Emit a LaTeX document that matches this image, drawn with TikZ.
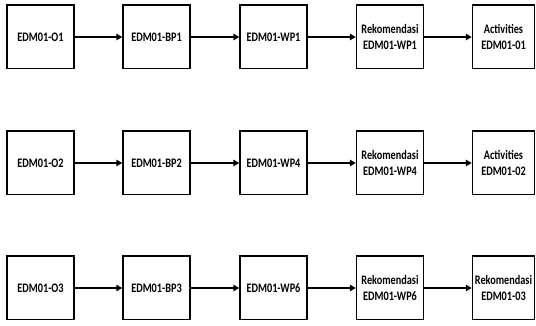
\documentclass[tikz,border=0pt]{standalone}
\usepackage{fontspec}
\newfontfamily\boxfont{Carlito Bold}[FakeStretch=0.79]
\usetikzlibrary{arrows.meta}
\tikzset{
  box/.style={draw=black, line width=1.5pt, fill=white, minimum width=67pt, minimum height=63.5pt,
    inner sep=0pt, align=center, font=\boxfont\fontsize{13}{16.5}\selectfont},
  lastbox/.style={box, minimum width=62pt},
  flow/.style={line width=1.6pt, -{Triangle[length=6pt,width=6.5pt]}}
}
\begin{document}
\begin{tikzpicture}[x=1pt,y=1pt]
\useasboundingbox (0,0) rectangle (536,326);
% row 1
\node[box] (a1) at (40.5,289) {EDM01-O1};
\node[box] (b1) at (156.5,289) {EDM01-BP1};
\node[box] (c1) at (273.5,289) {EDM01-WP1};
\node[box] (d1) at (390,289) {Rekomendasi\\EDM01-WP1};
\node[lastbox] (e1) at (503.5,289) {Activities\\EDM01-01};
% row 2
\node[box] (a2) at (40.5,163) {EDM01-O2};
\node[box] (b2) at (156.5,163) {EDM01-BP2};
\node[box] (c2) at (273.5,163) {EDM01-WP4};
\node[box] (d2) at (390,163) {Rekomendasi\\EDM01-WP4};
\node[lastbox] (e2) at (503.5,163) {Activities\\EDM01-02};
% row 3
\node[box] (a3) at (40.5,38) {EDM01-O3};
\node[box] (b3) at (156.5,38) {EDM01-BP3};
\node[box] (c3) at (273.5,38) {EDM01-WP6};
\node[box] (d3) at (390,38) {Rekomendasi\\EDM01-WP6};
\node[lastbox] (e3) at (503.5,38) {Rekomendasi\\EDM01-03};
\foreach \r in {1,2,3}{
  \draw[flow] (a\r) -- (b\r);
  \draw[flow] (b\r) -- (c\r);
  \draw[flow] (c\r) -- (d\r);
  \draw[flow] (d\r) -- (e\r);
}
\end{tikzpicture}
\end{document}
